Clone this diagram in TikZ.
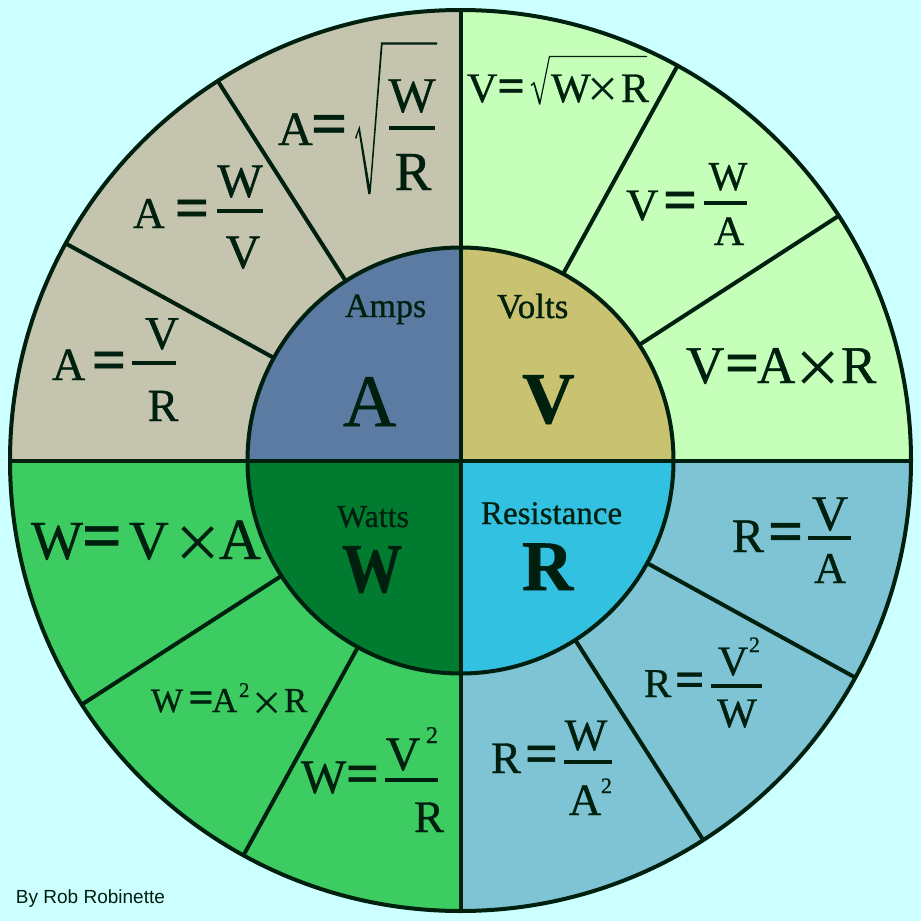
\documentclass[tikz,border=0pt]{standalone}
\usepackage{fontspec}
\usepackage{graphicx}
\setmainfont{Liberation Serif}[FakeBold=0.8]
\newfontfamily\plainserif{Liberation Serif}
\newfontfamily\bysans{Liberation Sans}
\definecolor{bgc}{HTML}{CCFFFF}
\definecolor{ink}{HTML}{00200F}
\definecolor{tlo}{HTML}{C5C4AF}
\definecolor{tli}{HTML}{5B7BA3}
\definecolor{tro}{HTML}{C6FFBA}
\definecolor{tri}{HTML}{C8C271}
\definecolor{bro}{HTML}{7EC4D4}
\definecolor{bri}{HTML}{33C1E2}
\definecolor{blo}{HTML}{3CCC62}
\definecolor{bli}{HTML}{007B30}
\newcommand\fs[1]{\fontsize{#1}{#1}\selectfont}
\newcommand\beq[1]{{\fs{#1}\bfseries =}}
\newcommand\tms[1]{{\plainserif\fs{#1}\char"00D7}}
\begin{document}
\begin{tikzpicture}[x=1pt,y=-1pt,
  ln/.style={line width=4pt, draw=ink},
  fbar/.style={line width=4pt, draw=ink},
  tw/.style={inner sep=0pt, outer sep=0pt, text=ink, anchor=base west},
  tc/.style={inner sep=0pt, outer sep=0pt, text=ink, anchor=base}]
\useasboundingbox (0,0) rectangle (921,921);
\fill[bgc] (0,0) rectangle (921,921);
\begin{scope}[shift={(460.5,460.5)}]
  % outer quadrants
  \fill[tlo] (0pt,0pt) -- (90:450.5pt) arc[start angle=90,end angle=180,radius=450.5pt] -- cycle;
  \fill[tro] (0pt,0pt) -- (0:450.5pt) arc[start angle=0,end angle=90,radius=450.5pt] -- cycle;
  \fill[bro] (0pt,0pt) -- (270:450.5pt) arc[start angle=270,end angle=360,radius=450.5pt] -- cycle;
  \fill[blo] (0pt,0pt) -- (180:450.5pt) arc[start angle=180,end angle=270,radius=450.5pt] -- cycle;
  % inner quadrants
  \fill[tli] (0pt,0pt) -- (90:213pt) arc[start angle=90,end angle=180,radius=213pt] -- cycle;
  \fill[tri] (0pt,0pt) -- (0:213pt) arc[start angle=0,end angle=90,radius=213pt] -- cycle;
  \fill[bri] (0pt,0pt) -- (270:213pt) arc[start angle=270,end angle=360,radius=213pt] -- cycle;
  \fill[bli] (0pt,0pt) -- (180:213pt) arc[start angle=180,end angle=270,radius=213pt] -- cycle;
  % dividers
  \foreach \a in {32.9,61.2,122.6,151.2,212.8,241.2,302.6,331.2}
    \draw[ln] (\a:213pt) -- (\a:450.5pt);
  \draw[ln] (180:450.5pt) -- (0:450.5pt);
  \draw[ln] (90:450.5pt) -- (270:450.5pt);
  \draw[ln] (0pt,0pt) circle[radius=213pt];
  \draw[ln] (0pt,0pt) circle[radius=450.5pt];
\end{scope}

% ---------- Amps quadrant ----------
\node[tw] (ampslbl) at (345,317) {\fs{34}Amps};
\node[tw] (ampsA) at (343,426) {\fs{74}A};
% A = sqrt(W/R)
\node[tw] (a1l) at (278,145) {\fs{48}A};
\node[tw] (a1e) at (311,145) {\beq{64}};
\fill[ink] (355,138) -- (359.5,125.5) -- (369.8,186) -- (381,42.3) -- (437,42.3) -- (437,44.5) -- (382.6,44.5) -- (370.6,194) -- (368.2,194) -- (358.6,131) -- (356.4,138.8) -- cycle;
\node[tc] (a1n) at (412,112) {\fs{50}W};
\draw[fbar] (389,128) -- (435,128);
\node[tc] (a1d) at (413,190) {\fs{55}R};
% A = W/V
\node[tw] (a2l) at (133,228) {\fs{44}A};
\node[tw] (a2e) at (175,228) {\beq{60}};
\node[tc] (a2n) at (240,197) {\fs{48}W};
\draw[fbar] (217,211) -- (263,211);
\node[tc] (a2d) at (243,268) {\fs{48}V};
% A = V/R
\node[tw] (a3l) at (52,380) {\fs{46}A};
\node[tw] (a3e) at (92,380) {\beq{60}};
\node[tc] (a3n) at (162,349) {\fs{47}V};
\draw[fbar] (132,363) -- (176,363);
\node[tc] (a3d) at (163,421) {\fs{46}R};

% ---------- Volts quadrant ----------
\node[tw] (voltslbl) at (497,318) {\fs{35}Volts};
\node[tw] (voltsV) at (522,423) {\fs{73}\bfseries V};
% V = sqrt(W x R)
\node[tw] (v1l) at (467,102) {\fs{42}V};
\node[tw] (v1e) at (497.5,102) {\beq{48}};
\fill[ink] (530.7,85) -- (534.3,81.5) -- (540,100) -- (549,55.8) -- (647,55.8) -- (647,57.2) -- (549.9,57.2) -- (540.3,104.5) -- (539,104.5) -- (533.6,84.5) -- (531.3,86) -- cycle;
\node[tw] (v1w) at (551,102) {\fs{42}W};
\node[tw] (v1x) at (587,107) {\tms{55}};
\node[tw] (v1r) at (621,102) {\fs{42}R};
% V = W/A
\node[tw] (v2l) at (626,220) {\fs{45}V};
\node[tw] (v2e) at (663,220) {\beq{60}};
\node[tc] (v2n) at (728,190) {\fs{41}W};
\draw[fbar] (704,203) -- (747,203);
\node[tc] (v2d) at (729,245) {\fs{42}A};
% V = A x R
\node[tw] (v3l) at (686,383) {\fs{53}V};
\node[tw] (v3e) at (725,383) {\beq{60}};
\node[tw] (v3a) at (757,383) {\fs{53}A};
\node[tw] (v3x) at (795.5,394.5) {\tms{80}};
\node[tw] (v3r) at (841,383) {\fs{53}R};

% ---------- Resistance quadrant ----------
\node[tw] (reslbl) at (481,524) {\fs{33}Resistance};
\node[tw] (resR) at (522,590) {\fs{71}\bfseries R};
% R = V/A
\node[tw] (r1l) at (732,552) {\fs{48}R};
\node[tw] (r1e) at (768,552) {\beq{62}};
\node[tc] (r1n) at (830,530) {\fs{50}V};
\draw[fbar] (808,538) -- (851,538);
\node[tc] (r1d) at (830,583) {\fs{44}A};
% R = V^2/W
\node[tw] (r2l) at (644,697) {\fs{41}R};
\node[tw] (r2e) at (675,697) {\beq{52}};
\node[tc] (r2n) at (733,675) {\fs{42}V};
\node[tw] (r2s) at (749,652) {\fs{22}2};
\draw[fbar] (711,686) -- (762,686);
\node[tc] (r2d) at (737,727) {\fs{42}W};
% R = W/A^2
\node[tw] (r3l) at (491,773) {\fs{45}R};
\node[tw] (r3e) at (525,773) {\beq{58}};
\node[tc] (r3n) at (586,750) {\fs{45}W};
\draw[fbar] (564,762) -- (612,762);
\node[tc] (r3d) at (585,815) {\fs{45}A};
\node[tw] (r3s) at (601,793) {\fs{22}2};

% ---------- Watts quadrant ----------
\node[tw] (wattslbl) at (337,527) {\fs{32}Watts};
\node[tw] (wattsW) at (342,592) {\scalebox{0.86}[1]{\fs{70}\bfseries W}};
% W = V x A
\node[tw] (w1l) at (31,559) {\fs{55}W};
\node[tw] (w1e) at (82,559) {\beq{70}};
\node[tw] (w1v) at (129,559) {\fs{55}V};
\node[tw] (w1x) at (175.5,569.5) {\tms{80}};
\node[tw] (w1a) at (219,559) {\fs{58}A};
% W = A^2 x R
\node[tw] (w2l) at (151,712) {\fs{34}W};
\node[tw] (w2e) at (188.5,712) {\beq{44}};
\node[tw] (w2a) at (212,712) {\fs{35}A};
\node[tw] (w2s) at (239,697) {\fs{21}2};
\node[tw] (w2x) at (252,720) {\tms{52}};
\node[tw] (w2r) at (284,712) {\fs{35}R};
% W = V^2/R
\node[tw] (w3l) at (301,793) {\fs{48}W};
\node[tw] (w3e) at (346,793) {\beq{58}};
\node[tc] (w3n) at (403,770) {\fs{48}V};
\node[tw] (w3s) at (426,743) {\fs{24}2};
\draw[fbar] (385,780) -- (438,780);
\node[tc] (w3d) at (429,832) {\fs{45}R};

% credit
\node[tw] (credit) at (16,903) {\bysans\fs{19}By Rob Robinette};
\end{tikzpicture}
\end{document}
